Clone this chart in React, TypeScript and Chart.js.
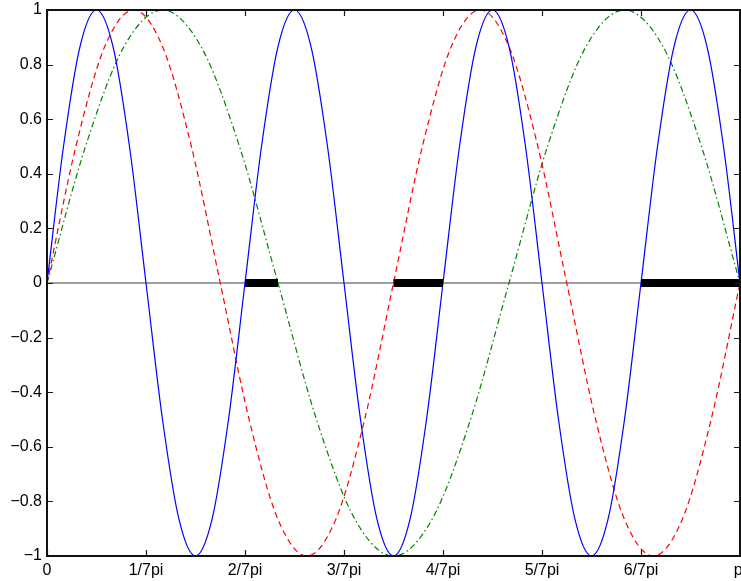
import React, { useEffect, useRef } from "react";
import { Chart, registerables } from "chart.js";

Chart.register(...registerables);

// x is expressed in units of pi (0 .. 1 means 0 .. pi)
const xTickValues = [0, 1 / 7, 2 / 7, 3 / 7, 4 / 7, 5 / 7, 6 / 7, 1];
const xTickLabels = ["0", "1/7pi", "2/7pi", "3/7pi", "4/7pi", "5/7pi", "6/7pi", "pi"];
const yTickValues = [-1, -0.8, -0.6, -0.4, -0.2, 0, 0.2, 0.4, 0.6, 0.8, 1];
const yTickLabels = ["\u22121", "\u22120.8", "\u22120.6", "\u22120.4", "\u22120.2", "0", "0.2", "0.4", "0.6", "0.8", "1"];

// blue solid curve, sampled every pi/42
const blueStep = 1 / 42;
const blueY = [
  0, 0.5, 0.866, 1, 0.866, 0.5, 0, -0.5, -0.866, -1, -0.866, -0.5,
  0, 0.5, 0.866, 1, 0.866, 0.5, 0, -0.5, -0.866, -1, -0.866, -0.5,
  0, 0.5, 0.866, 1, 0.866, 0.5, 0, -0.5, -0.866, -1, -0.866, -0.5,
  0, 0.5, 0.866, 1, 0.866, 0.5, 0,
];
// red dashed curve, sampled every pi/24
const redStep = 1 / 24;
const redY = [
  0, 0.5, 0.866, 1, 0.866, 0.5, 0, -0.5, -0.866, -1, -0.866, -0.5,
  0, 0.5, 0.866, 1, 0.866, 0.5, 0, -0.5, -0.866, -1, -0.866, -0.5,
  0,
];
// green dash-dot curve, sampled every pi/18
const greenStep = 1 / 18;
const greenY = [
  0, 0.5, 0.866, 1, 0.866, 0.5, 0, -0.5, -0.866, -1, -0.866, -0.5,
  0, 0.5, 0.866, 1, 0.866, 0.5, 0,
];
// thick black segments on the zero line (units of pi)
const barStarts = [2 / 7, 1 / 2, 6 / 7];
const barEnds = [1 / 3, 4 / 7, 1];

const FONT = { family: "'Liberation Sans', Arial, Helvetica, sans-serif", size: 16 };

const framePlugin = {
  id: "matlabFrame",
  afterDatasetsDraw(chart: any) {
    const { ctx, chartArea, scales } = chart;
    const { left, top, right, bottom } = chartArea;
    const xs = scales.x;
    const ys = scales.y;
    ctx.save();
    ctx.strokeStyle = "#1a1a1a";
    ctx.lineWidth = 1.2;
    ctx.beginPath();
    for (const v of xTickValues) {
      const px = Math.round(xs.getPixelForValue(v)) + 0.5;
      ctx.moveTo(px, bottom);
      ctx.lineTo(px, bottom - 6);
      ctx.moveTo(px, top);
      ctx.lineTo(px, top + 6);
    }
    for (const v of yTickValues) {
      const py = Math.round(ys.getPixelForValue(v)) + 0.5;
      ctx.moveTo(left, py);
      ctx.lineTo(left + 6, py);
      ctx.moveTo(right, py);
      ctx.lineTo(right - 6, py);
    }
    ctx.stroke();
    ctx.lineWidth = 2;
    ctx.strokeStyle = "#111";
    ctx.strokeRect(left, top, right - left, bottom - top);
    ctx.restore();
  },
};

export default function App() {
  const ref = useRef<HTMLCanvasElement | null>(null);

  useEffect(() => {
    if (!ref.current) return;
    const barData: any[] = [];
    barStarts.forEach((s, i) => {
      barData.push({ x: s, y: 0 });
      barData.push({ x: barEnds[i], y: 0 });
      barData.push({ x: (barEnds[i] + (barStarts[i + 1] ?? barEnds[i])) / 2, y: null });
    });

    const chart = new Chart(ref.current, {
      type: "line",
      data: {
        datasets: [
          {
            label: "bars",
            data: barData,
            borderColor: "#000000",
            borderWidth: 8,
            borderCapStyle: "butt",
            pointRadius: 0,
            spanGaps: false,
          },
          {
            label: "blue",
            data: blueY.map((y, i) => ({ x: i * blueStep, y })),
            borderColor: "#0000ff",
            borderWidth: 1.2,
            pointRadius: 0,
            cubicInterpolationMode: "monotone",
          },
          {
            label: "red",
            data: redY.map((y, i) => ({ x: i * redStep, y })),
            borderColor: "#ff0000",
            borderWidth: 1.2,
            borderDash: [6, 4],
            pointRadius: 0,
            cubicInterpolationMode: "monotone",
          },
          {
            label: "green",
            data: greenY.map((y, i) => ({ x: i * greenStep, y })),
            borderColor: "#008000",
            borderWidth: 1.2,
            borderDash: [6, 3, 1.5, 3],
            pointRadius: 0,
            cubicInterpolationMode: "monotone",
          },
          {
            label: "zero",
            data: [
              { x: 0, y: 0 },
              { x: 1, y: 0 },
            ],
            borderColor: "#7f7f7f",
            borderWidth: 1.6,
            pointRadius: 0,
          },
        ],
      },
      options: {
        animation: false,
        responsive: false,
        events: [],
        layout: { padding: { top: 10, right: 1, left: 0, bottom: 0 } },
        plugins: { legend: { display: false }, tooltip: { enabled: false } },
        scales: {
          x: {
            type: "linear",
            min: 0,
            max: 1,
            grid: { display: false, drawTicks: false },
            border: { display: false },
            ticks: {
              font: FONT,
              color: "#000",
              padding: 5,
              maxRotation: 0,
              autoSkip: false,
              callback: (_v: any, i: number) => xTickLabels[i],
            },
            afterBuildTicks: (axis: any) => {
              axis.ticks = xTickValues.map((v) => ({ value: v }));
            },
            afterFit: (axis: any) => {
              axis.height = 25;
              axis.paddingLeft = 0;
              axis.paddingRight = 0;
            },
          },
          y: {
            type: "linear",
            min: -1,
            max: 1,
            grid: { display: false, drawTicks: false },
            border: { display: false },
            ticks: {
              font: FONT,
              color: "#000",
              padding: 5,
              autoSkip: false,
              callback: (_v: any, i: number) => yTickLabels[i],
            },
            afterBuildTicks: (axis: any) => {
              axis.ticks = yTickValues.map((v) => ({ value: v }));
            },
            afterFit: (axis: any) => {
              axis.width = 47;
              axis.paddingTop = 0;
              axis.paddingBottom = 0;
            },
          },
        },
      },
      plugins: [framePlugin],
    } as any);

    return () => chart.destroy();
  }, []);

  return (
    <div style={{ position: "fixed", left: 0, top: 0, width: 741, height: 581, background: "#fff" }}>
      <canvas ref={ref} width={741} height={581} style={{ width: 741, height: 581, display: "block" }} />
    </div>
  );
}
